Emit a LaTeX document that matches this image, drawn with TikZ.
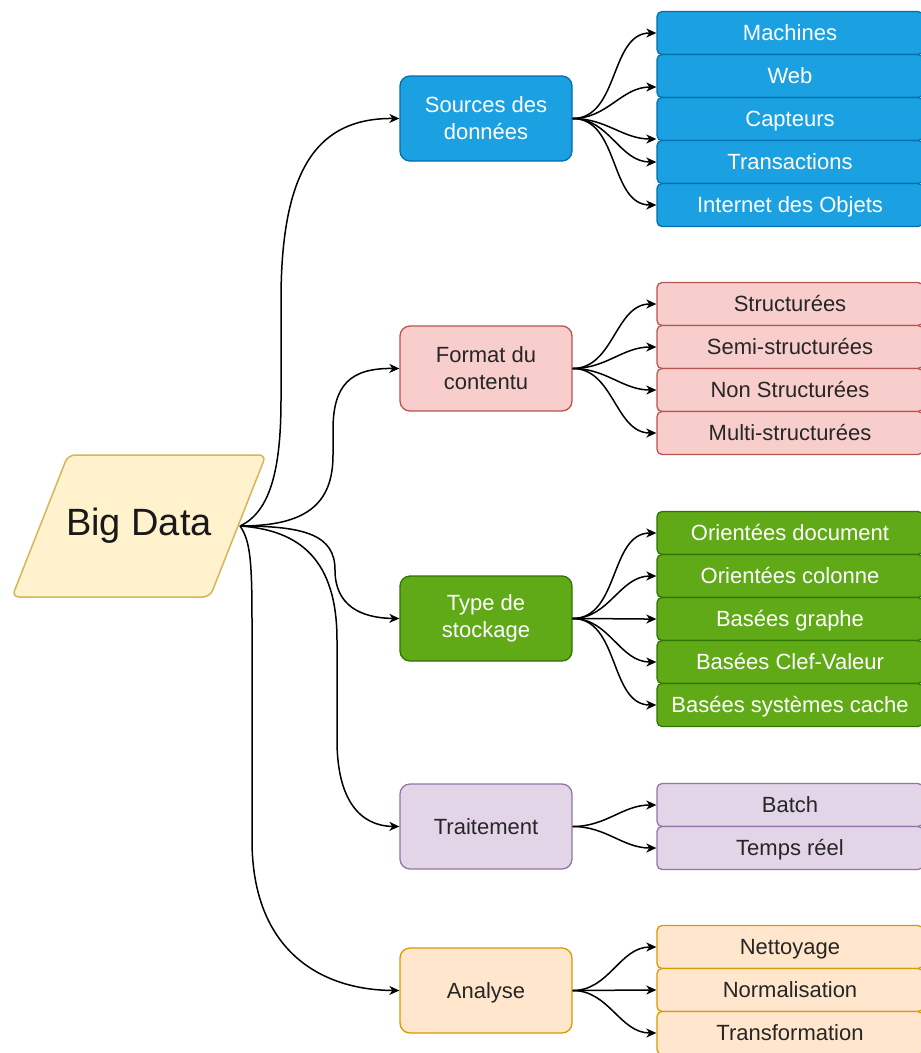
\documentclass[tikz,border=0pt]{standalone}
\usepackage{fontspec}
\setmainfont{Liberation Sans}
\usetikzlibrary{arrows.meta}
\definecolor{bluef}{HTML}{1BA1E2}\definecolor{blued}{HTML}{006EAF}
\definecolor{redf}{HTML}{F8CECC}\definecolor{redd}{HTML}{B85450}
\definecolor{greenf}{HTML}{60A917}\definecolor{greend}{HTML}{2D7600}
\definecolor{purpf}{HTML}{E1D5E7}\definecolor{purpd}{HTML}{9673A6}
\definecolor{orf}{HTML}{FFE6CC}\definecolor{ord}{HTML}{D79B00}
\definecolor{yelf}{HTML}{FFF2CC}\definecolor{yeld}{HTML}{D6B656}
\tikzset{
  mid/.style={draw,rounded corners=10pt,minimum width=172pt,minimum height=85pt,align=center,line width=1.3pt,font=\fontsize{22}{27}\selectfont},
  onel/.style={text height=15.8pt,text depth=0pt},
  leaf/.style={draw,rounded corners=5pt,minimum width=266pt,minimum height=43pt,inner sep=0pt,line width=1.3pt,onel,font=\fontsize{22}{26}\selectfont},
  cb/.style={fill=bluef,draw=blued,text=white},
  cr/.style={fill=redf,draw=redd,text=black!85},
  cg/.style={fill=greenf,draw=greend,text=white},
  cp/.style={fill=purpf,draw=purpd,text=black!85},
  co/.style={fill=orf,draw=ord,text=black!85},
  arr/.style={line width=1.5pt,-{Stealth[length=10pt,width=9pt,inset=3pt]}},
  fan/.style={out=0,in=180}
}
\begin{document}
\begin{tikzpicture}[x=1pt,y=-1pt]
\useasboundingbox (0,0) rectangle (921,1053);
\clip (0,0) rectangle (921,1053);
\fill[white] (0,0) rectangle (921,1053);
\draw[fill=yelf,draw=yeld,line width=1.5pt,rounded corners=7pt] (68,455) -- (266,455) -- (210,597) -- (12,597) -- cycle;
\node[font=\fontsize{38}{44}\selectfont,text=black!90] (big) at (139,526) {Big Data};
\coordinate (bigout) at (240,526);
\node[mid,cb] (src) at (486,118.5) {Sources des\\données};
\node[mid,cr] (fmt) at (486,368.5) {Format du\\contentu};
\node[mid,cg] (typ) at (486,618.5) {Type de\\stockage};
\node[mid,cp,onel] (trt) at (486,826.5) {Traitement};
\node[mid,co,onel] (ana) at (486,990.5) {Analyse};
\node[leaf,cb] (s1) at (790,33) {Machines};
\node[leaf,cb] (s2) at (790,76) {Web};
\node[leaf,cb] (s3) at (790,119) {Capteurs};
\node[leaf,cb] (s4) at (790,162) {Transactions};
\node[leaf,cb] (s5) at (790,205) {Internet des Objets};
\node[leaf,cr] (f1) at (790,304) {Structurées};
\node[leaf,cr] (f2) at (790,347) {Semi-structurées};
\node[leaf,cr] (f3) at (790,390) {Non Structurées};
\node[leaf,cr] (f4) at (790,433) {Multi-structurées};
\node[leaf,cg] (t1) at (790,533) {Orientées document};
\node[leaf,cg] (t2) at (790,576) {Orientées colonne};
\node[leaf,cg] (t3) at (790,619) {Basées graphe};
\node[leaf,cg] (t4) at (790,662) {Basées Clef-Valeur};
\node[leaf,cg] (t5) at (790,705) {Basées systèmes cache};
\node[leaf,cp] (p1) at (790,805) {Batch};
\node[leaf,cp] (p2) at (790,848) {Temps réel};
\node[leaf,co] (a1) at (790,947) {Nettoyage};
\node[leaf,co] (a2) at (790,990) {Normalisation};
\node[leaf,co] (a3) at (790,1033) {Transformation};
\draw[arr] (bigout) .. controls (270,512) and (281,470) .. (281,400) -- (281,300) .. controls (281,165) and (320,118) .. (src.west);
\draw[arr] (bigout) .. controls (305,526) and (333,505) .. (333,455) -- (333,430) .. controls (333,385) and (350,368) .. (fmt.west);
\draw[arr] (bigout) .. controls (305,526) and (335,535) .. (335,570) .. controls (335,605) and (360,618) .. (typ.west);
\draw[arr] (bigout) .. controls (300,530) and (337,560) .. (337,640) -- (337,740) .. controls (337,800) and (360,826) .. (trt.west);
\draw[arr] (bigout) .. controls (250,540) and (252,560) .. (252,620) -- (252,840) .. controls (252,950) and (320,990) .. (ana.west);
\draw[arr] (src.east) to[fan] (s1.west);
\draw[arr] (src.east) to[fan] ([yshift=-11pt]s2.west);
\draw[arr] (src.east) to[fan] ([yshift=-20pt]s3.west);
\draw[arr] (src.east) to[fan] (s4.west);
\draw[arr] (src.east) to[fan] (s5.west);
\draw[arr] (fmt.east) to[fan] (f1.west);
\draw[arr] (fmt.east) to[fan] (f2.west);
\draw[arr] (fmt.east) to[fan] (f3.west);
\draw[arr] (fmt.east) to[fan] (f4.west);
\draw[arr] (typ.east) to[fan] (t1.west);
\draw[arr] (typ.east) to[fan] (t2.west);
\draw[arr] (typ.east) to[fan] (t3.west);
\draw[arr] (typ.east) to[fan] (t4.west);
\draw[arr] (typ.east) to[fan] (t5.west);
\draw[arr] (trt.east) to[fan] (p1.west);
\draw[arr] (trt.east) to[fan] (p2.west);
\draw[arr] (ana.east) to[fan] (a1.west);
\draw[arr] (ana.east) to[fan] (a2.west);
\draw[arr] (ana.east) to[fan] (a3.west);
\end{tikzpicture}
\end{document}
